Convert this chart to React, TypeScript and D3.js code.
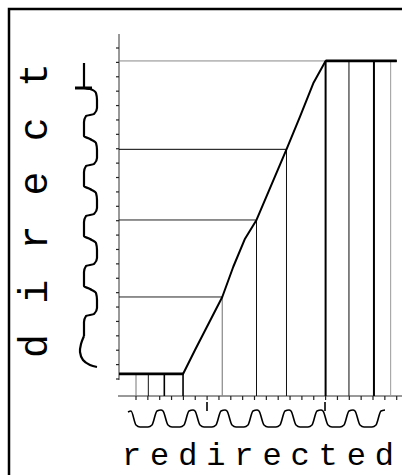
import React from "react";
import * as d3 from "d3";

// ---- data ----
const xTicks = d3.range(0, 23);
const yTicks = d3.range(0, 24);

const curveX = [-1.43, 3.97, 4.98, 7.28, 8.21, 9.2, 10.17, 12.7, 13.84, 14.96, 16.0, 22.0];
const curveY = [0.35, 0.35, 2.02, 5.7, 7.8, 9.75, 11.05, 15.96, 18.23, 20.55, 22.1, 22.1];

const dropX = [0, 1.04, 2.39, 3.97, 7.28, 10.17, 12.7, 16.0, 17.97, 20.08, 21.49];
const dropY = [0.35, 0.35, 0.35, 0.35, 5.7, 11.05, 15.96, 22.1, 22.1, 22.1, 22.1];
const dropColor = ["#777", "#111", "#000", "#000", "#888", "#111", "#111", "#000", "#333", "#000", "#999"];
const dropWidth = [1, 1, 1.6, 1.6, 1.2, 1, 1, 2, 1.2, 2, 1];

const guideX = [7.28, 10.17, 12.7, 16.0];
const guideY = [5.7, 11.05, 15.96, 22.1];
const guideColor = ["#222", "#222", "#000", "#888"];

const xLabel = "redirected";
const yLabel = "direct";

export default function App() {
  const W = 402, H = 475;
  const x = d3.scaleLinear().domain([0, 22]).range([136, 396.7]);
  const y = d3.scaleLinear().domain([0, 23]).range([379, 48]);
  const axisY = 396;
  const axisX = 119;

  const pts: [number, number][] = curveX.map((v, i) => [x(v), y(curveY[i])]);
  const line = d3.line<[number, number]>().x(d => d[0]).y(d => d[1]);

  // decorative squiggles (rounded square waves)
  const P = 32;
  const wavyH: [number, number][] = [[128, 412]];
  d3.range(0, 9).forEach(k => {
    const x0 = 131 + k * P;
    if (x0 + 26 > 400) return;
    wavyH.push([x0, 411], [x0 + 5, 425], [x0 + 9, 427], [x0 + 17, 427], [x0 + 21, 425], [x0 + 26, 411], [x0 + 30, 410]);
  });
  const Q = 50;
  const wavyV: [number, number][] = [[84, 63], [84, 88]];
  d3.range(0, 5).forEach(k => {
    const y0 = 88 + k * Q;
    wavyV.push([90, y0 + 1], [96, y0 + 5], [97, y0 + 12], [97, y0 + 20], [94, y0 + 26], [86, y0 + 28], [84, y0 + 34], [84, y0 + 48]);
  });
  const curlV: [number, number][] = [[84, 336], [81, 344], [80, 352], [83, 360], [90, 365], [97, 367]];
  const monoX = d3.line<[number, number]>().x(d => d[0]).y(d => d[1]).curve(d3.curveMonotoneX);
  const monoY = d3.line<[number, number]>().x(d => d[0]).y(d => d[1]).curve(d3.curveMonotoneY);
  const smooth = d3.line<[number, number]>().x(d => d[0]).y(d => d[1]).curve(d3.curveCatmullRom);

  return (
    <svg width={W} height={H} style={{ position: "absolute", left: 0, top: 0, background: "#fff" }}>
      <rect x={9} y={9} width={420} height={500} fill="#fff" stroke="#000" strokeWidth={2.5} />

      {/* y axis */}
      <line x1={axisX} x2={axisX} y1={34} y2={380} stroke="#333" strokeWidth={1} />
      {yTicks.map(t => (
        <line key={"yt" + t} x1={axisX - 3} x2={axisX} y1={y(t)} y2={y(t)} stroke="#222" strokeWidth={1.2} />
      ))}
      {/* x axis */}
      <line x1={118} x2={402} y1={axisY} y2={axisY} stroke="#333" strokeWidth={1} />
      {xTicks.map(t => (
        <line key={"xt" + t} x1={x(t)} x2={x(t)} y1={axisY} y2={axisY + 4} stroke="#222" strokeWidth={1.2} />
      ))}

      {/* guides */}
      {guideY.map((v, i) => (
        <line key={"g" + i} x1={axisX} x2={x(guideX[i])} y1={y(v)} y2={y(v)} stroke={guideColor[i]} strokeWidth={1} />
      ))}
      {dropX.map((v, i) => (
        <line key={"d" + i} x1={x(v)} x2={x(v)} y1={y(dropY[i])} y2={axisY} stroke={dropColor[i]} strokeWidth={dropWidth[i]} />
      ))}

      {/* main curve */}
      <path d={line(pts) || ""} fill="none" stroke="#000" strokeWidth={2} strokeLinejoin="round" />
      <path d={line([pts[0], pts[1]]) || ""} fill="none" stroke="#000" strokeWidth={2.8} />
      <path d={line([pts[pts.length - 2], pts[pts.length - 1]]) || ""} fill="none" stroke="#000" strokeWidth={2.8} />

      {/* squiggles */}
      <path d={monoX(wavyH) || ""} fill="none" stroke="#000" strokeWidth={1.6} />
      <line x1={207} x2={207} y1={402} y2={411} stroke="#000" strokeWidth={1.6} />
      <line x1={325} x2={325} y1={402} y2={411} stroke="#000" strokeWidth={1.6} />
      <path d={monoY(wavyV.filter(p => p[1] <= 336)) || ""} fill="none" stroke="#000" strokeWidth={2.2} />
      <path d={smooth(curlV) || ""} fill="none" stroke="#000" strokeWidth={2.2} />
      <line x1={75} x2={92} y1={88} y2={88} stroke="#000" strokeWidth={3} />

      {/* labels */}
      <text x={122} y={465} fontFamily="'Liberation Mono', monospace" fontSize={32} textLength={272} lengthAdjust="spacing" fill="#000">{xLabel}</text>
      <text transform="translate(47,358) rotate(-90)" fontFamily="'Liberation Mono', monospace" fontSize={40} textLength={295} lengthAdjust="spacing" fill="#000">{yLabel}</text>
    </svg>
  );
}
